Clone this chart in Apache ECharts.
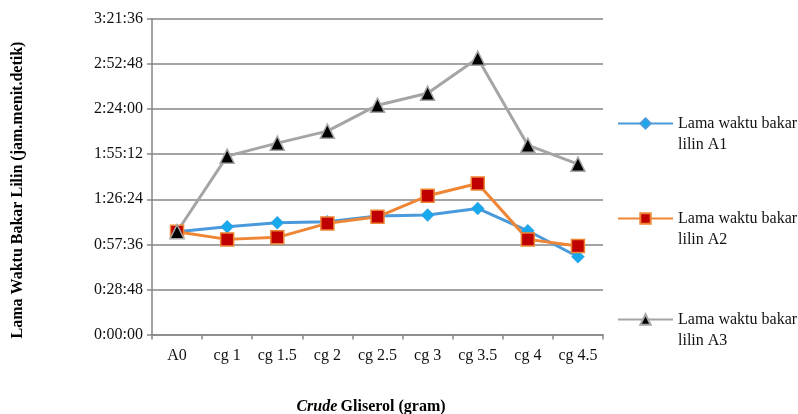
<!DOCTYPE html>
<html>
<head>
<meta charset="utf-8">
<script src="https://cdn.jsdelivr.net/npm/echarts@6/dist/echarts.min.js"></script>
<style>html,body{margin:0;padding:0;background:#fff}#c{width:798px;height:414px}</style>
</head>
<body>
<div id="c"></div>
<script>
const categories = ['A0','cg 1','cg 1.5','cg 2','cg 2.5','cg 3','cg 3.5','cg 4','cg 4.5'];
const seriesNames = ['Lama waktu bakar lilin A1','Lama waktu bakar lilin A2','Lama waktu bakar lilin A3'];
const timesA1 = ['1:05:38','1:08:50','1:11:23','1:12:01','1:15:40','1:16:18','1:20:35','1:06:17','0:49:41'];
const timesA2 = ['1:05:38','1:00:47','1:02:04','1:11:00','1:15:13','1:28:37','1:36:32','1:00:47','0:56:30'];
const timesA3 = ['1:05:38','1:53:58','2:02:16','2:09:56','2:26:32','2:34:12','2:56:33','2:01:00','1:48:52'];
const yTickInterval = '0:28:48';
const yMax = '3:21:36';

function toSec(s){const p=s.split(':').map(Number);return p[0]*3600+p[1]*60+p[2];}
function fmt(v){v=Math.round(v);const h=Math.floor(v/3600),m=Math.floor((v%3600)/60),s=v%60;return h+':'+String(m).padStart(2,'0')+':'+String(s).padStart(2,'0');}

const serif = '"Liberation Serif","Times New Roman",serif';
const chart = echarts.init(document.getElementById('c'));

function legendFor(i, top){
  return {
    data:[seriesNames[i]], left:617, top:top, orient:'vertical', padding:0,
    itemWidth:55, itemHeight:13, itemGap:5,
    formatter: function(n){return '\n' + n.replace(' lilin', '\nlilin');},
    textStyle:{fontFamily:serif, fontSize:16, color:'#111', lineHeight:21}
  };
}

chart.setOption({
  animation:false,
  grid:{left:152, right:195, top:19, bottom:79.5},
  legend:[legendFor(0, 92), legendFor(1, 187), legendFor(2, 288)],
  xAxis:{
    type:'category', data:categories, boundaryGap:true,
    axisLine:{lineStyle:{color:'#868686', width:1.5}},
    axisTick:{show:true, length:5, lineStyle:{color:'#868686', width:1.5}},
    axisLabel:{fontFamily:serif, fontSize:16, color:'#111', margin:13, interval:0, hideOverlap:false}
  },
  yAxis:{
    type:'value', min:0, max:toSec(yMax), interval:toSec(yTickInterval),
    axisLine:{show:true, lineStyle:{color:'#868686', width:1.5}},
    axisTick:{show:true, length:5, lineStyle:{color:'#868686', width:1.5}},
    splitLine:{lineStyle:{color:'#868686', width:1.5}},
    axisLabel:{fontFamily:serif, fontSize:16, color:'#111', margin:9, formatter:fmt}
  },
  graphic:[
    {type:'text', x:18, y:190, rotation:Math.PI/2,
     style:{text:'Lama Waktu Bakar Lilin (jam.menit.detik)', fontFamily:serif, fontSize:16, fontWeight:'bold', fill:'#000', align:'center', verticalAlign:'middle'}},
    {type:'text', x:371, y:407,
     style:{text:'{i|Crude} {b|Gliserol (gram)}', align:'center', verticalAlign:'middle',
       rich:{i:{fontFamily:serif, fontSize:16, fontWeight:'bold', fontStyle:'italic', fill:'#000'},
             b:{fontFamily:serif, fontSize:16, fontWeight:'bold', fill:'#000'}}}}
  ],
  series:[
    {name:seriesNames[0], type:'line', data:timesA1.map(toSec), symbol:'diamond', symbolSize:13,
     lineStyle:{color:'#4A9ADB', width:3}, itemStyle:{color:'#17A9EC', borderColor:'#4A9ADB', borderWidth:0.5}},
    {name:seriesNames[1], type:'line', data:timesA2.map(toSec), symbol:'rect', symbolSize:13,
     lineStyle:{color:'#EE8636', width:3}, itemStyle:{color:'#C00000', borderColor:'#EE8636', borderWidth:1.5}},
    {name:seriesNames[2], type:'line', data:timesA3.map(toSec), symbol:'triangle', symbolSize:14,
     lineStyle:{color:'#A5A5A5', width:3}, itemStyle:{color:'#000', borderColor:'#A5A5A5', borderWidth:1.5}}
  ]
});
</script>
</body>
</html>
